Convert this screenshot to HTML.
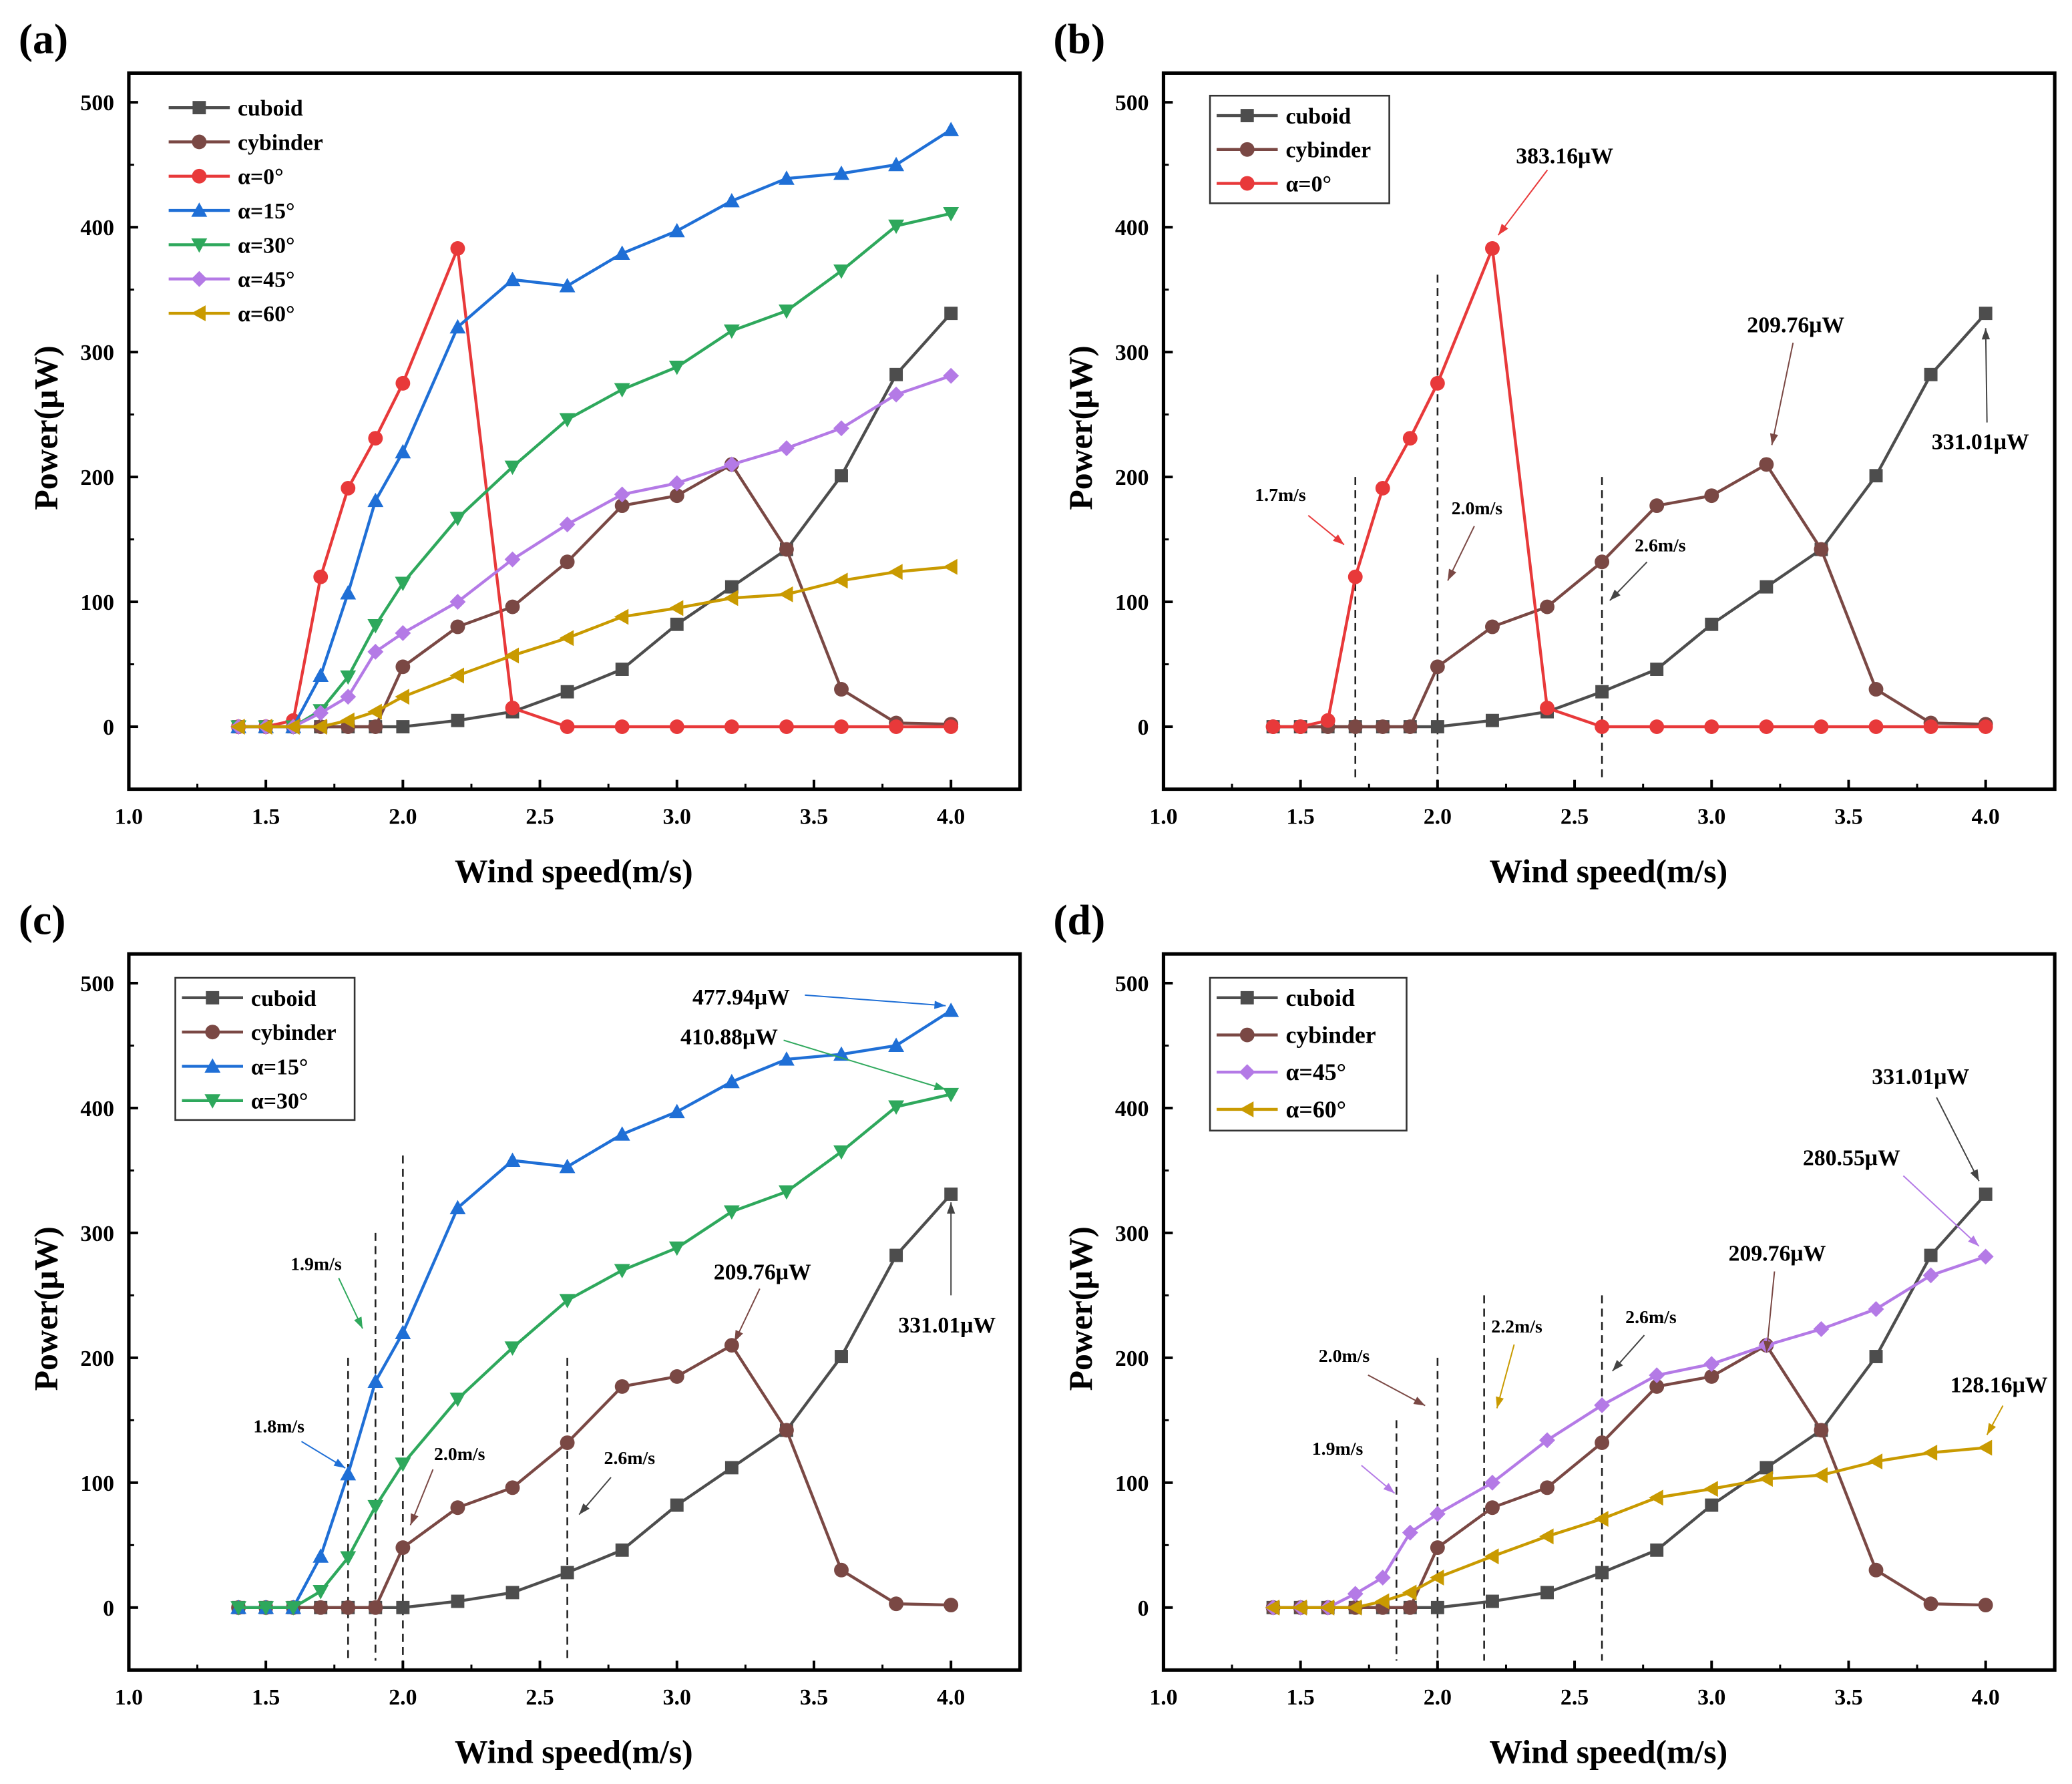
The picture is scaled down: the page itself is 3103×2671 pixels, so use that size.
<!DOCTYPE html>
<html><head><meta charset="utf-8"><style>
html,body{margin:0;padding:0;background:#fff}
svg{display:block}
text{font-family:"Liberation Serif",serif;font-weight:bold}
</style></head><body>
<svg id="fig" xmlns="http://www.w3.org/2000/svg" width="3103" height="2671" viewBox="0 0 1560 1342.8">
<rect width="1560" height="1342.8" fill="#fff"/>
</svg>
<script>
const xs=[1.4,1.5,1.6,1.7,1.8,1.9,2.0,2.2,2.4,2.6,2.8,3.0,3.2,3.4,3.6,3.8,4.0];
const cuboid=[0,0,0,0,0,0,0,5,12,28,46,82,112,142,201,282,331];
const cylinder=[0,0,0,0,0,0,48,80,96,132,177,185,210,142,30,3,2];
const a0=[0,0,5,120,191,231,275,383,15,0,0,0,0,0,0,0,0];
const a15=[0,0,0,41,107,181,220,320,358,353,379,397,421,439,443,450,478];
const a30=[0,0,0,13,40,81,115,167,208,246,270,288,317,333,365,401,411];
const a45=[0,0,0,11,24,60,75,100,134,162,186,195,210,223,239,266,281];
const a60=[0,0,0,0,5,12,24,41,57,71,88,95,103,106,117,124,128];
const xTicks=[1.0,1.5,2.0,2.5,3.0,3.5,4.0];
const yTicks=[0,100,200,300,400,500];

const NS="http://www.w3.org/2000/svg";
const svg=document.getElementById('fig');
function el(tag,attrs,parent,txt){const e=document.createElementNS(NS,tag);for(const k in attrs)e.setAttribute(k,attrs[k]);if(txt!==undefined)e.textContent=txt;(parent||svg).appendChild(e);return e;}

const S={
 cuboid:{name:'cuboid',data:cuboid,color:'#4d4d4d',m:'sq'},
 cylinder:{name:'cybinder',data:cylinder,color:'#7a4844',m:'ci'},
 a0:{name:'α=0°',data:a0,color:'#e8393a',m:'ci'},
 a15:{name:'α=15°',data:a15,color:'#1f6fd6',m:'tu'},
 a30:{name:'α=30°',data:a30,color:'#2ea85c',m:'td'},
 a45:{name:'α=45°',data:a45,color:'#b47ae6',m:'di'},
 a60:{name:'α=60°',data:a60,color:'#c99a00',m:'tl'}
};
function marker(g,type,x,y,c){
 let r=6;
 if(type==='sq')return el('rect',{x:x-5,y:y-5,width:10,height:10,fill:c},g);
 if(type==='ci')return el('circle',{cx:x,cy:y,r:5.5,fill:c},g);
 let p;
 if(type==='tu')p=[[x,y-r],[x+r,y+r*0.8],[x-r,y+r*0.8]];
 if(type==='td')p=[[x,y+r],[x+r,y-r*0.8],[x-r,y-r*0.8]];
 if(type==='di')p=[[x,y-r],[x+r,y],[x,y+r],[x-r,y]];
 if(type==='tl')p=[[x-r,y],[x+r*0.8,y-r],[x+r*0.8,y+r]];
 return el('polygon',{points:p.map(q=>q.join(',')).join(' '),fill:c},g);
}
function arrow(g,x1,y1,x2,y2,c){
 el('line',{x1,y1,x2,y2,stroke:c,'stroke-width':1},g);
 const a=Math.atan2(y2-y1,x2-x1),L=9,w=0.35;
 const p=[[x2,y2],[x2-L*Math.cos(a-w),y2-L*Math.sin(a-w)],[x2-L*Math.cos(a+w),y2-L*Math.sin(a+w)]];
 el('polygon',{points:p.map(q=>q.join(',')).join(' '),fill:c},g);
}
function panel(id,dx,dy,keys,legend,dashes,anns){
 const g=el('g',{transform:`translate(${dx},${dy})`});
 
 
 const X=v=>97+(v-1)*206.33, Y=v=>547-v*0.94;
 el('text',{x:14,y:40,'font-size':32},g,'('+id+')');
 // ticks
 xTicks.forEach(t=>{el('line',{x1:X(t),x2:X(t),y1:594,y2:587,stroke:'#000','stroke-width':2},g);
  const tl=el('text',{x:X(t),y:620,'font-size':17,'text-anchor':'middle'},g,t.toFixed(1));
  });
 for(let t=1.25;t<4.3;t+=0.5)el('line',{x1:X(t),x2:X(t),y1:594,y2:590,stroke:'#000','stroke-width':1.5},g);
 yTicks.forEach(t=>{el('line',{x1:97,x2:104,y1:Y(t),y2:Y(t),stroke:'#000','stroke-width':2},g);
  const tl=el('text',{x:86,y:Y(t)+6,'font-size':17,'text-anchor':'end'},g,t);
  });
 for(let t=50;t<550;t+=100)el('line',{x1:97,x2:101,y1:Y(t),y2:Y(t),stroke:'#000','stroke-width':1.5},g);
 const xt=el('text',{x:432,y:664,'font-size':25,'text-anchor':'middle'},g,'Wind speed(m/s)');
 
 const yt=el('text',{x:0,y:0,'font-size':25,'text-anchor':'middle',transform:'translate(43,322) rotate(-90)'},g,'Power(μW)');
 
 // dashes
 dashes.forEach(d=>el('line',{x1:X(d[0]),x2:X(d[0]),y1:Y(d[1]),y2:587,stroke:'#222','stroke-width':1.3,'stroke-dasharray':'6,4'},g));
 // series
 keys.forEach(k=>{const s=S[k];const sg=el('g',{},g);
  
  el('polyline',{points:xs.map((x,i)=>X(x)+','+Y(s.data[i])).join(' '),fill:'none',stroke:s.color,'stroke-width':2.2},sg);
  xs.forEach((x,i)=>{const m=marker(sg,s.m,X(x),Y(s.data[i]),s.color);
   });
 });
 el('rect',{x:97,y:55,width:671,height:539,fill:'none',stroke:'#000','stroke-width':2.6},g);
 // legend
 const lg=el('g',{},g);
 
 if(legend.box)el('rect',{x:legend.box[0],y:legend.box[1],width:legend.box[2],height:legend.box[3],fill:'#fff',stroke:'#333','stroke-width':1.3},lg);
 keys.forEach((k,i)=>{const s=S[k];const y=legend.y0+i*legend.dy;
  const e=el('g',{},lg);
  el('line',{x1:legend.x,x2:legend.x+46,y1:y,y2:y,stroke:s.color,'stroke-width':2.2},e);
  marker(e,s.m,legend.x+23,y,s.color);
  el('text',{x:legend.x+52,y:y+6,'font-size':legend.fs||17},e,s.name);});
 anns.forEach(a=>{const ag=el('g',{},g);
  el('text',{x:a[0],y:a[1],'font-size':a[7]||17,'text-anchor':'middle'},ag,a[2]);
  arrow(ag,a[3],a[4],a[5],a[6],a[8]||'#444');});
}
panel('a',0,0,['cuboid','cylinder','a0','a15','a30','a45','a60'],{x:127,y0:81,dy:25.8},[],[]);
panel('b',779,0,['cuboid','cylinder','a0'],{box:[132,72,135,81],x:137,y0:87,dy:25.5},[[1.7,200],[2.0,362],[2.6,200]],[
 [399,123,'383.16μW',386,128,349,177,17,'#e8393a'],
 [573,250,'209.76μW',571,258,555,335,17,'#7a4844'],
 [712,338,'331.01μW',717,318,716,247,17,'#444'],
 [185,377,'1.7m/s',206,388,233,410,14,'#e8393a'],
 [333,387,'2.0m/s',331,396,311,437,14,'#7a4844'],
 [471,415,'2.6m/s',461,423,433,452,14,'#444']]);
panel('c',0,663,['cuboid','cylinder','a15','a30'],{box:[132,73,135,107],x:137,y0:88,dy:25.8},[[1.8,200],[1.9,300],[2.0,362],[2.6,200]],[
 [558,93,'477.94μW',606,86,712,94,17,'#1f6fd6'],
 [549,123,'410.88μW',590,120,712,157,17,'#2ea85c'],
 [713,340,'331.01μW',716,312,716,242,17,'#444'],
 [574,300,'209.76μW',572,307,553,347,17,'#7a4844'],
 [238,293,'1.9m/s',255,299,273,337,14,'#2ea85c'],
 [210,415,'1.8m/s',227,422,260,442,14,'#1f6fd6'],
 [346,436,'2.0m/s',326,443,309,485,14,'#7a4844'],
 [474,439,'2.6m/s',460,449,436,477,14,'#444']]);
panel('d',779,663,['cuboid','cylinder','a45','a60'],{box:[132,73,148,115],x:137,y0:88,dy:28,fs:18},[[1.85,150],[2.0,200],[2.17,250],[2.6,250]],[
 [667,153,'331.01μW',679,163,711,226,17,'#444'],
 [615,214,'280.55μW',654,222,711,275,17,'#b47ae6'],
 [559,286,'209.76μW',557,294,551,355,17,'#7a4844'],
 [726,385,'128.16μW',729,395,717,417,17,'#c99a00'],
 [233,362,'2.0m/s',251,372,294,395,14,'#7a4844'],
 [363,340,'2.2m/s',361,349,348,397,14,'#c99a00'],
 [464,333,'2.6m/s',459,342,435,369,14,'#444'],
 [228,432,'1.9m/s',246,440,271,461,14,'#b47ae6']]);
</script>
</body></html>
